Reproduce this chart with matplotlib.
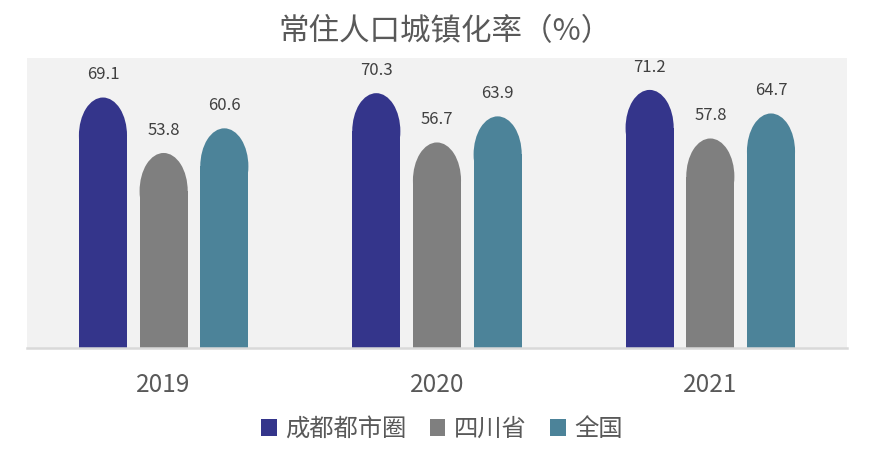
import matplotlib.pyplot as plt
from matplotlib.patches import Ellipse, Patch
import numpy as np

plt.rcParams['font.family'] = ['Noto Sans CJK SC', 'DejaVu Sans']

years = ['2019', '2020', '2021']
series_names = ['成都都市圈', '四川省', '全国']
chengdu = [69.1, 70.3, 71.2]
sichuan = [53.8, 56.7, 57.8]
national = [60.6, 63.9, 64.7]
colors = ['#34358B', '#7F7F7F', '#4C8399']

fig = plt.figure(figsize=(8.73, 4.51), dpi=100)
ax = fig.add_axes([0.0309, 0.2284, 0.9393, 0.643])
ax.set_facecolor('#F2F2F2')

x = np.arange(len(years))
width = 0.176
step = 0.222
cap = 10.5  # height of the rounded top, in data units

for i, (vals, c) in enumerate(zip([chengdu, sichuan, national], colors)):
    xs = x + (i - 1) * step
    ax.bar(xs, [v - cap for v in vals], width=width, color=c, linewidth=0)
    for xi, v in zip(xs, vals):
        ax.add_patch(Ellipse((xi, v - cap), width, 2 * cap, color=c, linewidth=0))
        ax.text(xi, v + 6.3, f'{v:.1f}', ha='center', va='center',
                fontsize=12, color='#404040')

ax.set_xlim(-0.5, 2.5)
ax.set_ylim(0, 80)
ax.set_yticks([])
ax.set_xticks(x)
ax.set_xticklabels(years, fontsize=17.5, color='#595959')
ax.tick_params(axis='x', length=0, pad=17)
for s in ['top', 'left', 'right']:
    ax.spines[s].set_visible(False)
ax.spines['bottom'].set_color('#D9D9D9')
ax.spines['bottom'].set_linewidth(1.8)

fig.text(0.51, 0.929, '常住人口城镇化率（%）', ha='center', va='center',
         fontsize=22, color='#595959')

handles = [Patch(facecolor=c, edgecolor='none', label=n)
           for c, n in zip(colors, series_names)]
leg = fig.legend(handles=handles, loc='center', bbox_to_anchor=(0.506, 0.049),
                 ncol=3, frameon=False, fontsize=17.5, handlelength=0.65,
                 handleheight=0.75, handletextpad=0.35, columnspacing=0.95)
for t in leg.get_texts():
    t.set_color('#595959')

fig.savefig('out.png', dpi=100)
